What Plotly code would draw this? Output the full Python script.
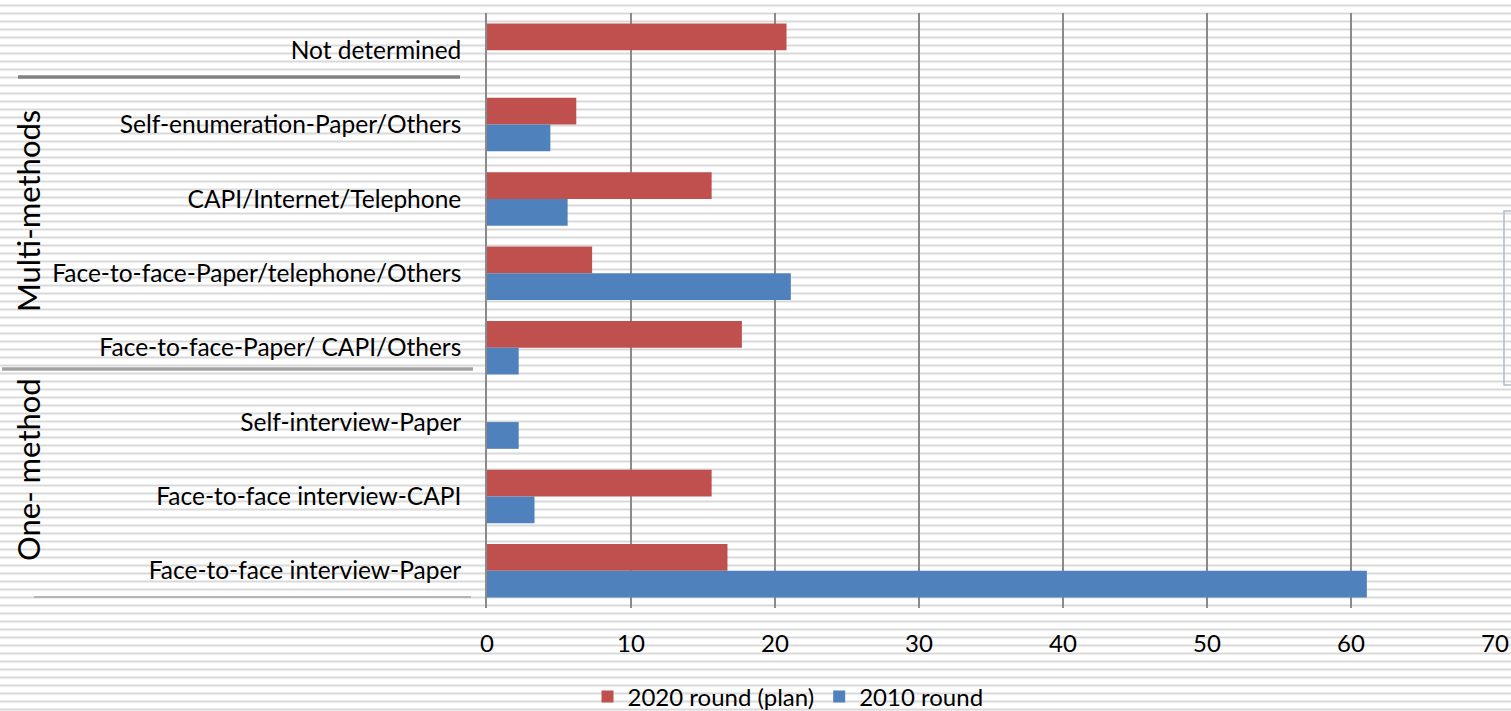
import plotly.graph_objects as go

categories = [
    "Not determined",
    "Self-enumeration-Paper/Others",
    "CAPI/Internet/Telephone",
    "Face-to-face-Paper/telephone/Others",
    "Face-to-face-Paper/ CAPI/Others",
    "Self-interview-Paper",
    "Face-to-face interview-CAPI",
    "Face-to-face interview-Paper",
]
round_2020_plan = [20.8, 6.2, 15.6, 7.3, 17.7, 0, 15.6, 16.7]
round_2010 = [0, 4.4, 5.6, 21.1, 2.2, 2.2, 3.3, 61.1]
x_ticks = [0, 10, 20, 30, 40, 50, 60, 70]
group_labels = ["Multi-methods", "One- method"]

W, H = 1511, 711
L, R, T, B = 487, 1495, 13, 608
PW, PH = R - L, B - T

def px(x):
    return (x - L) / PW

def py(y):
    return (B - y) / PH

FONT = "Lato"

fig = go.Figure()
fig.add_trace(go.Bar(
    y=categories, x=round_2020_plan, orientation="h", name="2020 round (plan)",
    marker=dict(color="#C0504D", line=dict(width=0)),
))
fig.add_trace(go.Bar(
    y=categories, x=round_2010, orientation="h", name="2010 round",
    marker=dict(color="#4F81BD", line=dict(width=0)),
))

shapes = []
# background stripes
k = 0
while True:
    yy = 5.5 + 8 * k
    if yy > H:
        break
    shapes.append(dict(type="line", xref="paper", yref="paper",
                       x0=px(0), x1=px(W), y0=py(yy), y1=py(yy),
                       line=dict(color="#d9d9d9", width=2), layer="below"))
    k += 1

# group separator lines
shapes.append(dict(type="line", xref="paper", yref="paper",
                   x0=px(18), x1=px(460), y0=py(77), y1=py(77),
                   line=dict(color="#808080", width=3.5), layer="above"))
shapes.append(dict(type="line", xref="paper", yref="paper",
                   x0=px(2), x1=px(473), y0=py(369), y1=py(369),
                   line=dict(color="#a3a3a3", width=3.5), layer="above"))
shapes.append(dict(type="line", xref="paper", yref="paper",
                   x0=px(34), x1=px(471), y0=py(597), y1=py(597),
                   line=dict(color="#a6a6a6", width=1.5), layer="above"))
# partial box at right edge
shapes.append(dict(type="rect", xref="paper", yref="paper",
                   x0=px(1504), x1=px(1540), y0=py(385), y1=py(211),
                   line=dict(color="#b0bdcc", width=1.5), fillcolor="rgba(0,0,0,0)",
                   layer="above"))

annotations = [
    dict(text=group_labels[0], xref="paper", yref="paper", x=px(28), y=py(211),
         textangle=-90, showarrow=False, xanchor="center", yanchor="middle",
         font=dict(family=FONT, size=31, color="#000000")),
    dict(text=group_labels[1], xref="paper", yref="paper", x=px(28), y=py(470),
         textangle=-90, showarrow=False, xanchor="center", yanchor="middle",
         font=dict(family=FONT, size=31, color="#000000")),
]

fig.update_layout(
    width=W, height=H,
    margin=dict(l=L, r=W - R, t=T, b=H - B, pad=0, autoexpand=False),
    paper_bgcolor="white", plot_bgcolor="rgba(0,0,0,0)",
    barmode="group", bargap=0.28, bargroupgap=0,
    font=dict(family=FONT, size=20, color="#000000"),
    shapes=shapes, annotations=annotations,
    showlegend=True,
    legend=dict(orientation="h", x=px(788), y=py(697), xanchor="center",
                yanchor="middle", bgcolor="rgba(0,0,0,0)",
                font=dict(family=FONT, size=24, color="#000000"),
                itemwidth=30, tracegroupgap=0),
    hovermode=False,
)
fig.update_xaxes(
    range=[0, 70], tickvals=x_ticks, ticktext=[str(v) for v in x_ticks],
    showgrid=True, gridcolor="#8a8a8a", gridwidth=1.6,
    zeroline=False, showline=False, ticks="", ticklabelstandoff=19,
    tickfont=dict(family=FONT, size=24, color="#000000"),
)
fig.update_yaxes(
    categoryorder="array", categoryarray=categories, autorange="reversed",
    showgrid=False, zeroline=False, showline=True, linecolor="#8a8a8a", linewidth=1.6,
    ticks="", ticklabelstandoff=19,
    tickfont=dict(family=FONT, size=24.5, color="#000000"),
)

fig.write_html("out.html")
